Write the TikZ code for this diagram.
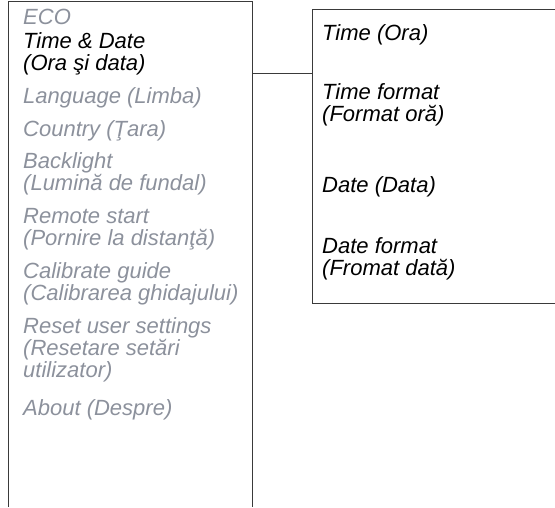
\documentclass[tikz,border=0pt]{standalone}
\usepackage{fontspec}
\setmainfont{Liberation Sans}
\usepackage{tikz}
\usetikzlibrary{positioning}
\definecolor{menugray}{HTML}{8C919C}
\definecolor{framegray}{HTML}{3A3A3A}

\begin{document}
\begin{tikzpicture}[x=1pt, y=-1pt,
  frame/.style={draw=framegray, line width=0.9pt},
  item/.style={anchor=base west, inner sep=0pt, align=left, text=menugray,
    font=\fontsize{22}{22}\selectfont\itshape},
  active/.style={item, text=black}
]
\useasboundingbox (0,0) rectangle (555,507);

% main menu (multi-line items sit on their last baseline)
\draw[frame] (8,507) -- (8,1) -- (252,1) -- (252,507);
\node[item] (eco) at (23,24) {ECO};
\node[active] (timedate) at (23,70) {Time \& Date\\(Ora şi data)};
\node[item] (lang) at (23,103) {Language (Limba)};
\node[item] (country) at (23,136) {Country (Ţara)};
\node[item] (light) at (23,190) {Backlight\\(Lumină de fundal)};
\node[item] (remote) at (23,245) {Remote start\\(Pornire la distanţă)};
\node[item] (guide) at (23,300) {Calibrate guide\\(Calibrarea ghidajului)};
\node[item] (reset) at (23,377) {Reset user settings\\(Resetare setări\\utilizator)};
\node[item] (about) at (23,415) {About (Despre)};

% submenu
\node[frame, anchor=north west, minimum width=250pt, minimum height=294pt] (sub) at (312,9) {};
\node[active] (time) at (322,40) {Time (Ora)};
\node[active] (timefmt) at (322,121) {Time format\\(Format oră)};
\node[active] (date) at (322,192) {Date (Data)};
\node[active] (datefmt) at (322,275) {Date format\\(Fromat dată)};

\coordinate (link) at (252,73);
\draw[frame] (link) -- (link -| sub.west);
\end{tikzpicture}
\end{document}
